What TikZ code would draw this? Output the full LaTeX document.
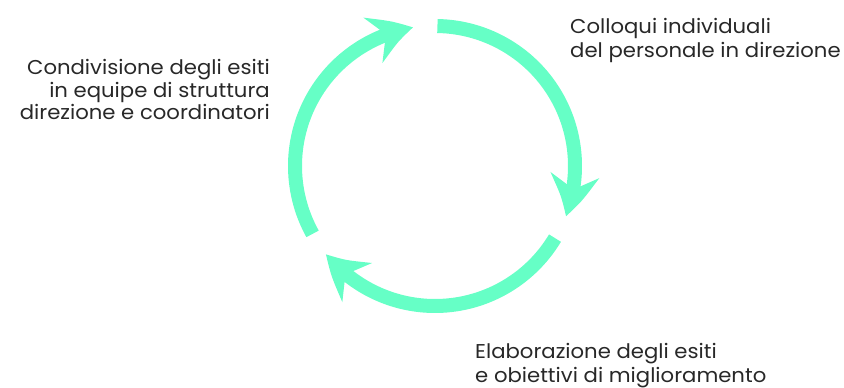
\documentclass[tikz,border=0pt]{standalone}
\usepackage{fontspec}
\setmainfont[FakeStretch=1.06]{Poppins}
\usetikzlibrary{arrows.meta,bending,calc}
\definecolor{mint}{RGB}{102,255,198}
\definecolor{ink}{RGB}{40,40,40}
\begin{document}
\begin{tikzpicture}[x=1pt,y=1pt,
  ring/.style={draw=mint,line width=14pt,-{Stealth[length=42pt,width=48pt,inset=14pt,bend]}},
  lbl/.style={inner sep=0pt,text=ink,font=\fontsize{20}{24.5}\selectfont}]
\useasboundingbox (0,0) rectangle (844,388);
\coordinate (c) at (435,222);
\def\R{140}
\draw[ring] ($(c)+(89:\R)$) coordinate (s1) arc[start angle=89,end angle=-21,radius=\R] coordinate (e1);
\draw[ring] ($(c)+(-31:\R)$) coordinate (s2) arc[start angle=-31,end angle=-141,radius=\R] coordinate (e2);
\draw[ring] ($(c)+(209:\R)$) coordinate (s3) arc[start angle=209,end angle=99,radius=\R] coordinate (e3);
\node[lbl,anchor=base west,align=left] (t1) at (570,330) {Colloqui individuali\\del personale in direzione};
\node[lbl,anchor=base east,align=right,font=\fontsize{20}{22.5}\selectfont] (t2) at (270,268) {Condivisione degli esiti\\in equipe di struttura\\direzione e coordinatori};
\node[lbl,anchor=base west,align=left,font=\fontsize{20}{23.5}\selectfont] (t3) at (475,5.5) {Elaborazione degli esiti\\e obiettivi di miglioramento};
\end{tikzpicture}
\end{document}
